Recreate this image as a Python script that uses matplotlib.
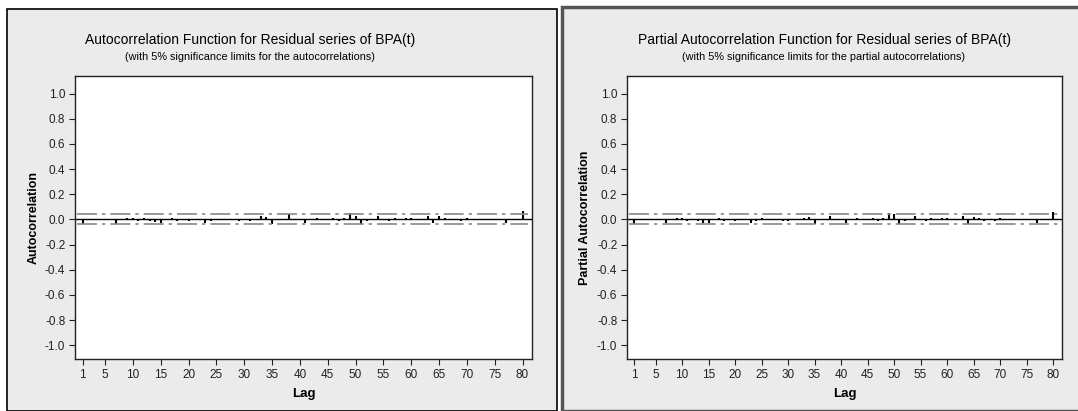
import numpy as np
import matplotlib
matplotlib.use("Agg")
import matplotlib.pyplot as plt
from matplotlib.patches import Rectangle

plt.rcParams['font.family'] = ['Liberation Sans', 'DejaVu Sans']

lags = np.arange(1, 81)
acf_vals = [-0.035, -0.003, 0.002, -0.004, 0.003, -0.002, -0.035, -0.008, 0.010, 0.012,
            -0.010, 0.008, -0.015, -0.020, -0.025, 0.005, 0.010, -0.012, 0.006, -0.010,
            0.004, -0.006, -0.025, -0.012, 0.003, -0.004, 0.002, 0.005, -0.012, 0.003,
            -0.010, 0.002, 0.025, 0.020, -0.038, 0.004, -0.003, 0.040, 0.005, -0.004,
            -0.030, 0.006, 0.010, -0.006, 0.003, 0.015, -0.010, 0.012, 0.048, 0.030,
            -0.035, -0.010, -0.004, 0.030, -0.006, -0.012, 0.010, -0.008, 0.015, 0.010,
            -0.005, 0.003, 0.030, -0.030, 0.025, 0.010, -0.008, 0.005, -0.010, 0.008,
            -0.004, 0.003, -0.005, 0.004, 0.002, -0.003, -0.030, 0.002, -0.002, 0.065]
pacf_vals = [-0.035, -0.003, 0.002, -0.004, 0.003, -0.002, -0.030, -0.008, 0.010, 0.012,
             -0.010, 0.006, -0.015, -0.025, -0.028, 0.005, 0.010, -0.012, 0.006, -0.010,
             0.004, -0.006, -0.030, -0.010, 0.008, -0.004, 0.002, 0.005, -0.012, -0.010,
             -0.008, 0.002, 0.012, 0.020, -0.040, 0.004, -0.003, 0.030, 0.005, -0.004,
             -0.030, 0.006, 0.010, -0.006, 0.003, 0.015, -0.010, 0.012, 0.050, 0.040,
             -0.035, -0.012, -0.004, 0.025, -0.006, -0.012, 0.010, -0.008, 0.012, 0.010,
             -0.005, 0.003, 0.030, -0.035, 0.020, 0.010, -0.010, 0.005, -0.012, 0.008,
             -0.004, 0.003, -0.005, 0.004, 0.002, -0.003, -0.030, 0.002, -0.002, 0.060]
sig_limit = 0.04
xticks = [1] + list(range(5, 81, 5))
yticks = [1.0, 0.8, 0.6, 0.4, 0.2, 0.0, -0.2, -0.4, -0.6, -0.8, -1.0]

W, H = 1078, 411
fig = plt.figure(figsize=(W / 100, H / 100), dpi=100)
fig.patch.set_facecolor('white')

# panel backgrounds, kept behind the axes
fig.add_artist(Rectangle((7 / W, 0), 550 / W, 1 - 9 / H, transform=fig.transFigure,
                         facecolor='#ebebeb', edgecolor='black', lw=1.2, zorder=-10))
fig.add_artist(Rectangle((562 / W, 0), 530 / W, 1 - 7 / H, transform=fig.transFigure,
                         facecolor='#ebebeb', edgecolor='#555555', lw=2.5, zorder=-10))

panels = [
    dict(left=75, right=532, vals=acf_vals, ylabel='Autocorrelation',
         title='Autocorrelation Function for Residual series of BPA(t)',
         sub='(with 5% significance limits for the autocorrelations)', tx=250),
    dict(left=627, right=1062, vals=pacf_vals, ylabel='Partial Autocorrelation',
         title='Partial Autocorrelation Function for Residual series of BPA(t)',
         sub='(with 5% significance limits for the partial autocorrelations)', tx=824),
]

top, bottom = 76, 359
for p in panels:
    ax = fig.add_axes([p['left'] / W, 1 - bottom / H, (p['right'] - p['left']) / W, (bottom - top) / H])
    ax.set_facecolor('white')
    ax.vlines(lags, 0, p['vals'], color='black', lw=1.5)
    ax.axhline(0, color='black', lw=1)
    ax.plot([0, 81], [sig_limit, sig_limit], color='#888888', lw=1.2, dashes=(12, 3, 2, 3))
    ax.plot([0, 81], [-sig_limit, -sig_limit], color='#888888', lw=1.2, dashes=(12, 3, 2, 3))
    ax.set_xlim(-0.4, 81.7)
    ax.set_ylim(-1.11, 1.14)
    ax.set_xticks(xticks)
    ax.set_yticks(yticks)
    ax.set_yticklabels([f'{v:.1f}' for v in yticks])
    ax.tick_params(direction='out', length=4, labelsize=8.5, colors='#222222', pad=3)
    for s in ax.spines.values():
        s.set_color('#222222')
        s.set_linewidth(1)
    ax.set_xlabel('Lag', fontsize=9.5, fontweight='bold', labelpad=5)
    ax.set_ylabel(p['ylabel'], fontsize=9, fontweight='bold', labelpad=4)
    fig.text(p['tx'] / W, 1 - 40 / H, p['title'], ha='center', va='center', fontsize=10)
    fig.text(p['tx'] / W, 1 - 57 / H, p['sub'], ha='center', va='center', fontsize=7.8)

fig.savefig('out.png', dpi=100)
